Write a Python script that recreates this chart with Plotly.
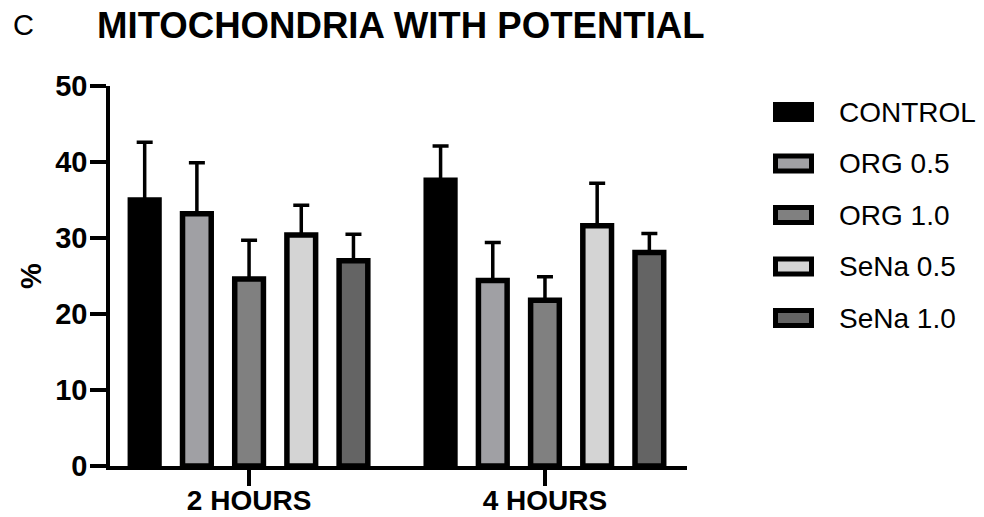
import plotly.graph_objects as go

# Data: percentage of mitochondria with membrane potential (mean + SEM)
timepoints = ["2 HOURS", "4 HOURS"]
groups = ["CONTROL", "ORG 0.5", "ORG 1.0", "SeNa 0.5", "SeNa 1.0"]
means_control = [35.0, 37.6]
means_org05 = [33.2, 24.4]
means_org10 = [24.6, 21.8]
means_sena05 = [30.4, 31.6]
means_sena10 = [27.0, 28.1]
sem_control = [7.6, 4.5]
sem_org05 = [6.7, 5.0]
sem_org10 = [5.1, 3.1]
sem_sena05 = [3.9, 5.6]
sem_sena10 = [3.5, 2.5]
y_ticks = [0, 10, 20, 30, 40, 50]

means = [means_control, means_org05, means_org10, means_sena05, means_sena10]
sems = [sem_control, sem_org05, sem_org10, sem_sena05, sem_sena10]
fills = ["#000000", "#A0A0A4", "#808080", "#D4D4D4", "#646464"]

FONT = "Liberation Sans, Arial, sans-serif"

# plot-area geometry (pixels)
W_FIG, H_FIG = 984, 517
L, T = 110, 86
PW, PH = 577, 380


def px_x(x):
    return (x - L) / PW


def px_y(y):
    return 1 - (y - T) / PH


fig = go.Figure()
for name, m, s, c in zip(groups, means, sems, fills):
    fig.add_trace(go.Bar(
        x=timepoints, y=m, name=name,
        marker=dict(color=c, line=dict(color="#000000", width=5.5)),
        error_y=dict(type="data", array=s, arrayminus=[0] * len(s), symmetric=False,
                     color="#000000", thickness=3.5, width=8),
        showlegend=False,
    ))

annotations = [
    dict(text="C", x=px_x(11), y=px_y(25), xref="paper", yref="paper",
         xanchor="left", yanchor="middle", showarrow=False,
         font=dict(family=FONT, size=29, color="#000000")),
    dict(text="MITOCHONDRIA WITH POTENTIAL", x=px_x(95), y=px_y(25),
         xref="paper", yref="paper", xanchor="left", yanchor="middle", showarrow=False,
         font=dict(family=FONT, size=36.6, color="#000000", weight=700)),
    dict(text="%", x=px_x(31), y=0.5, xref="paper", yref="paper",
         xanchor="center", yanchor="middle", textangle=-90, showarrow=False,
         font=dict(family=FONT, size=29, color="#000000", weight=700)),
]

# legend drawn as framed swatches with labels
shapes = []
row0, row_step = 112, 51.5
for i, (name, c) in enumerate(zip(groups, fills)):
    cy = row0 + i * row_step
    shapes.append(dict(type="rect", xref="paper", yref="paper",
                       x0=px_x(775.5), x1=px_x(811.5),
                       y0=px_y(cy + 7.5), y1=px_y(cy - 7.5),
                       fillcolor=c, line=dict(color="#000000", width=5)))
    annotations.append(dict(text=name, x=px_x(837), y=px_y(cy), xref="paper", yref="paper",
                            xanchor="left", yanchor="middle", showarrow=False,
                            font=dict(family=FONT, size=28, color="#000000")))

fig.update_layout(
    width=W_FIG, height=H_FIG,
    margin=dict(l=L, r=W_FIG - L - PW, t=T, b=H_FIG - T - PH, pad=0),
    paper_bgcolor="#FFFFFF", plot_bgcolor="#FFFFFF",
    barmode="group", bargap=0.118, bargroupgap=0.45,
    annotations=annotations, shapes=shapes,
    font=dict(family=FONT, color="#000000"),
)
fig.update_xaxes(
    type="category", range=[-0.47, 1.48], automargin=False,
    showline=True, linecolor="#000000", linewidth=3.5,
    ticks="outside", ticklen=16, tickwidth=3.5, tickcolor="#000000",
    ticklabelstandoff=-9,
    tickfont=dict(family=FONT, size=28, color="#000000", weight=700),
    showgrid=False, zeroline=False,
)
fig.update_yaxes(
    range=[0, 50], tickvals=y_ticks, automargin=False,
    showline=True, linecolor="#000000", linewidth=3.5,
    ticks="outside", ticklen=16, tickwidth=3.5, tickcolor="#000000",
    ticklabelstandoff=-3,
    tickfont=dict(family=FONT, size=29, color="#000000", weight=700),
    showgrid=False, zeroline=False,
)

fig.write_html("out.html")
